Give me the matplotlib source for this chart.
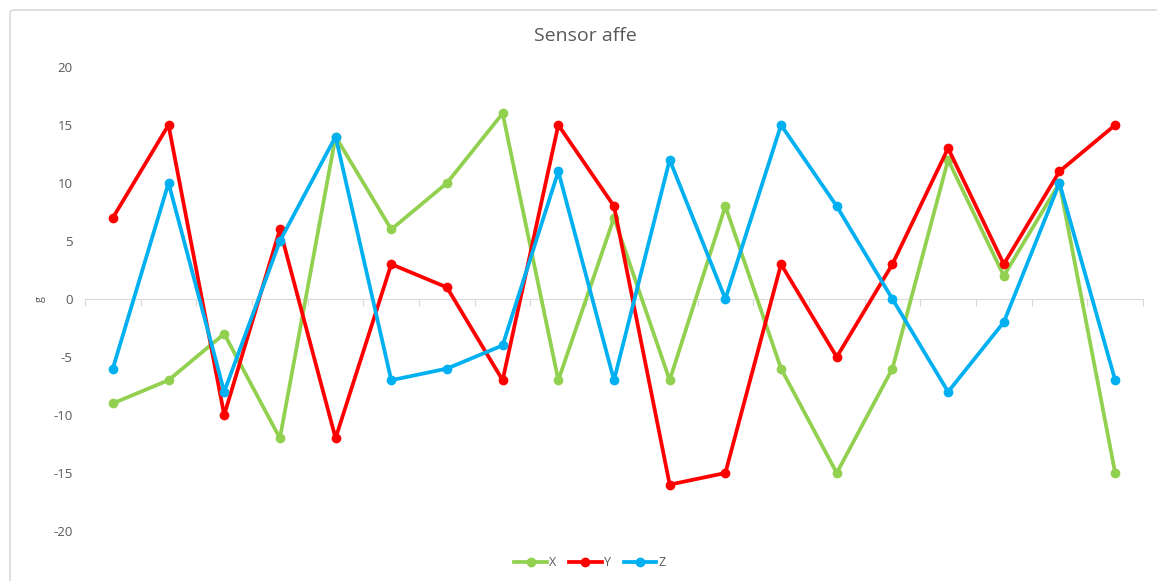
import numpy as np
import matplotlib
matplotlib.use("Agg")
import matplotlib.pyplot as plt
from matplotlib.patches import FancyBboxPatch

plt.rcParams['font.family'] = ['Open Sans', 'DejaVu Sans']

# Data
samples = list(range(1, 20))
x_vals = [-9, -7, -3, -12, 14, 6, 10, 16, -7, 7, -7, 8, -6, -15, -6, 12, 2, 10, -15]
y_vals = [7, 15, -10, 6, -12, 3, 1, -7, 15, 8, -16, -15, 3, -5, 3, 13, 3, 11, 15]
z_vals = [-6, 10, -8, 5, 14, -7, -6, -4, 11, -7, 12, 0, 15, 8, 0, -8, -2, 10, -7]
y_ticks = [-20, -15, -10, -5, 0, 5, 10, 15, 20]

W, H = 1157, 581
fig = plt.figure(figsize=(W / 100, H / 100), dpi=100)

# Chart-area frame (cut off on right and bottom like the screenshot)
frame = FancyBboxPatch((10 / W, -0.1), 1.2, 1 - 10 / H + 0.1,
                       boxstyle='round,pad=0,rounding_size=0.005',
                       transform=fig.transFigure, fc='none', ec='#d9d9d9', lw=1.2,
                       zorder=-1)
fig.patches.append(frame)

ax = fig.add_axes([85 / W, 1 - 531 / H, (1143 - 85) / W, (531 - 67) / H])
ax.set_facecolor('none')

idx = np.arange(len(samples))
series = [(x_vals, '#92D050', 'X'), (y_vals, '#FF0000', 'Y'), (z_vals, '#00B0F0', 'Z')]
for vals, col, name in series:
    ax.plot(idx, vals, color=col, lw=2.7, marker='o', ms=6, label=name,
            solid_joinstyle='round', clip_on=False)

ax.set_xlim(-0.5, len(samples) - 0.5)
ax.set_ylim(-20, 20)
ax.set_yticks(y_ticks)
ax.set_yticklabels([str(v) for v in y_ticks], color='#595959', fontsize=9.5)
ax.tick_params(axis='y', length=0, pad=9)

# Category axis sits at zero with boundary ticks
for s in ['left', 'right', 'top']:
    ax.spines[s].set_visible(False)
ax.spines['bottom'].set_position(('data', 0))
ax.spines['bottom'].set_color('#d9d9d9')
ax.spines['bottom'].set_zorder(0)
ax.set_xticks(np.arange(-0.5, len(samples)))
ax.set_xticklabels([])
ax.tick_params(axis='x', length=5, color='#d9d9d9', direction='out')

fig.text(40 / W, 1 - 299 / H, 'g', rotation=90, ha='center', va='center',
         color='#595959', fontsize=8)
fig.text(585 / W, 1 - 36 / H, 'Sensor affe', ha='center', va='center',
         color='#595959', fontsize=14)

fig.legend(loc='center', bbox_to_anchor=(590 / W, 1 - 563 / H), ncol=3,
           frameon=False, fontsize=9, labelcolor='#595959', handlelength=2.6,
           handletextpad=0.2, columnspacing=1.0)

fig.savefig('out.png', dpi=100)
plt.close(fig)
